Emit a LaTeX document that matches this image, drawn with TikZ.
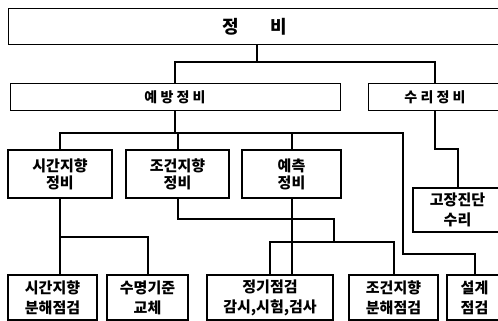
\documentclass[tikz,border=0pt]{standalone}
\usepackage{fontspec}
\setmainfont{Noto Sans CJK KR}
\usetikzlibrary{positioning,calc}

\begin{document}
\begin{tikzpicture}[
    x=1pt, y=-1pt,
    level/.style={
        rectangle,
        draw=black,
        line width=1pt,
        inner sep=0pt,
        align=center,
        font=\bfseries\fontsize{14}{16}\selectfont
    },
    method/.style={level, line width=2pt, minimum height=48pt,
        font=\bfseries\fontsize{15}{17}\selectfont},
    task/.style={level, line width=1.3pt, minimum height=45pt,
        font=\bfseries\fontsize{15}{20}\selectfont},
    conn/.style={line width=2pt, black}
]
    \useasboundingbox (0,0) rectangle (498,321);

    % Levels
    \node[level, minimum width=494pt, minimum height=36pt, font=\bfseries\fontsize{18}{20}\selectfont] (jb) at (255,26.5) {정\hspace{32pt}비};
    \node[level, minimum width=330pt, minimum height=26pt] (yb) at (175,97) {예 방 정 비};
    \node[level, minimum width=134pt, minimum height=26pt] (sr) at (435,97) {수 리 정 비};

    % Methods
    \node[method, minimum width=104pt] (tb) at (60,174) {시간지향\\정비};
    \node[method, minimum width=103pt] (cb) at (177.5,174) {조건지향\\정비};
    \node[method, minimum width=99pt] (pb) at (291.5,174) {예측\\정비};
    \node[task, minimum width=89pt, minimum height=44pt] (gj) at (457.5,210) {고장진단\\수리};

    % Tasks
    \node[task, minimum width=89pt] (b1) at (52.5,297.5) {시간지향\\분해점검};
    \node[task, minimum width=81pt] (b2) at (147.5,297.5) {수명기준\\교체};
    \node[task, minimum width=126pt] (b3) at (270,297.5) {정기점검\\감시,시험,검사};
    \node[task, minimum width=89pt] (b4) at (393.5,297.5) {조건지향\\분해점검};
    \node[task, minimum width=55pt] (b5) at (474.5,297.5) {설계\\점검};

    % Junctions
    \coordinate (t1) at (257,62);
    \coordinate (t2) at (175,133);
    \coordinate (t3) at (403,133);
    \coordinate (t4) at (403,254);
    \coordinate (t5) at (60,237);
    \coordinate (t6) at (334,219);
    \coordinate (t7) at (334,242);

    % Connectors
    \draw[conn] (jb.south -| t1) -- (t1);
    \draw[conn] (yb.north) |- (t1) -| (sr.north);
    \draw[conn] (yb.south) -- (t2);
    \draw[conn] (tb.north) |- (t3) -- (t4) -| (b5.north);
    \draw[conn] (cb.north) -- (cb.north |- t2);
    \draw[conn] (pb.north) -- (pb.north |- t2);
    \draw[conn] (sr.south) -- ++(0,38) -| (gj.north);
    \draw[conn] (tb.south) -- (tb.south |- b1.north);
    \draw[conn] (t5) -| (b2.north);
    \draw[conn] (cb.south) |- (t6) -- (t7);
    \draw[conn] (b3.north) |- (t7) -| (b4.north);
    \draw[conn] (pb.south) -- (pb.south |- b3.north);
\end{tikzpicture}
\end{document}
